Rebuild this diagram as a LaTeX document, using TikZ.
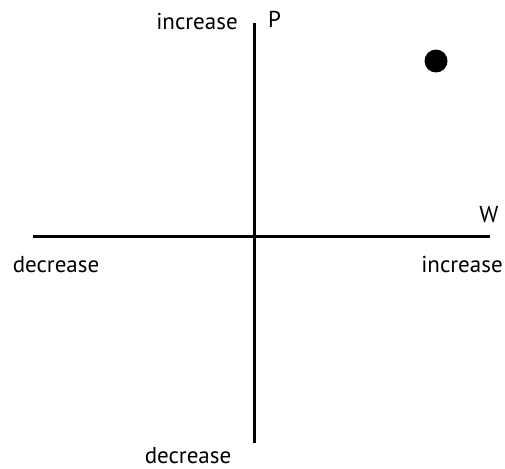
\documentclass[tikz,border=0pt]{standalone}
\usepackage{fontspec}
\setmainfont{PT Sans}
\begin{document}
\begin{tikzpicture}[x=1pt,y=-1pt,
  axis/.style={line width=3pt},
  lbl/.style={font=\fontsize{23}{25}\selectfont, inner sep=0pt, anchor=base}]
\useasboundingbox (0,0) rectangle (505,468);
\coordinate (vtop) at (254,23);
\coordinate (vbot) at (254,443);
\coordinate (hl) at (33,236);
\coordinate (hr) at (490,236);
\draw[axis] (vtop) -- (vbot);
\draw[axis] (hl) -- (hr);
\node[lbl] (pinc) at (197,30) {increase};
\node[lbl, anchor=base west] (p) at (268,28) {P};
\node[lbl] (w) at (489,222) {W};
\node[lbl] (wdec) at (56,272) {decrease};
\node[lbl] (winc) at (462,272) {increase};
\node[lbl] (pdec) at (188,463) {decrease};
\fill (436,61) circle (11.5);
\end{tikzpicture}
\end{document}
